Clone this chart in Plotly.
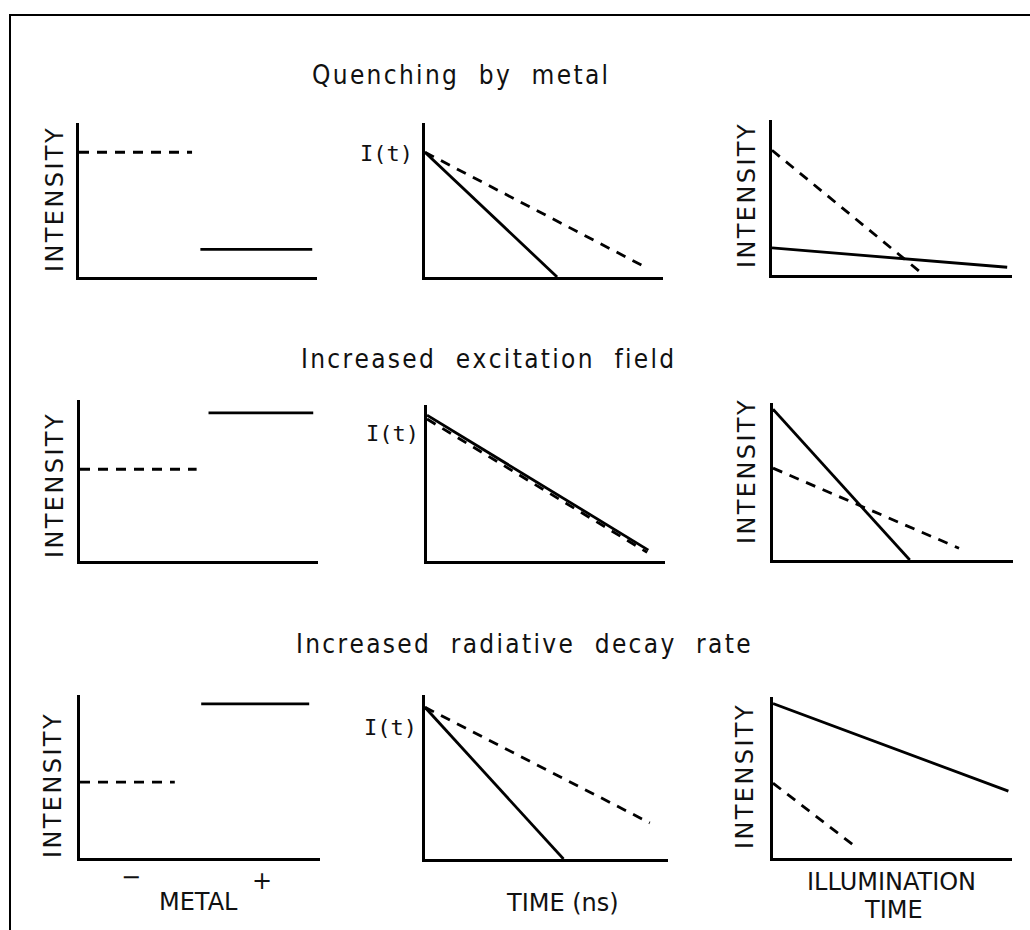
import plotly.graph_objects as go

W, H = 1030, 930

# ---- text ----
row_titles = ["Quenching  by  metal",
              "Increased  excitation  field",
              "Increased  radiative  decay  rate"]

# ---- curves (normalised axis units, 0..1) ----
# "free" = without metal (dashed), "metal" = near metal (solid)

# Row 1: quenching by metal
q_int_free_x, q_int_free_y = [0.0, 0.475], [0.81, 0.81]
q_int_metal_x, q_int_metal_y = [0.51, 0.98], [0.18, 0.18]
q_dec_free_x, q_dec_free_y = [0.0, 0.925], [0.81, 0.065]
q_dec_metal_x, q_dec_metal_y = [0.0, 0.555], [0.81, 0.0]
q_ill_free_x, q_ill_free_y = [0.0, 0.633], [0.805, 0.0]
q_ill_metal_x, q_ill_metal_y = [0.0, 0.98], [0.175, 0.05]

# Row 2: increased excitation field
e_int_free_x, e_int_free_y = [0.0, 0.49], [0.57, 0.57]
e_int_metal_x, e_int_metal_y = [0.54, 0.98], [0.92, 0.92]
e_dec_free_x, e_dec_free_y = [0.0, 0.925], [0.91, 0.055]
e_dec_metal_x, e_dec_metal_y = [0.0, 0.93], [0.935, 0.07]
e_ill_free_x, e_ill_free_y = [0.0, 0.775], [0.585, 0.075]
e_ill_metal_x, e_ill_metal_y = [0.0, 0.57], [0.96, 0.0]

# Row 3: increased radiative decay rate
r_int_free_x, r_int_free_y = [0.0, 0.395], [0.465, 0.465]
r_int_metal_x, r_int_metal_y = [0.505, 0.955], [0.945, 0.945]
r_dec_free_x, r_dec_free_y = [0.0, 0.925], [0.925, 0.22]
r_dec_metal_x, r_dec_metal_y = [0.0, 0.57], [0.925, 0.0]
r_ill_free_x, r_ill_free_y = [0.0, 0.345], [0.465, 0.07]
r_ill_metal_x, r_ill_metal_y = [0.0, 0.985], [0.96, 0.415]

panels = [
    (q_int_free_x, q_int_free_y, q_int_metal_x, q_int_metal_y),
    (q_dec_free_x, q_dec_free_y, q_dec_metal_x, q_dec_metal_y),
    (q_ill_free_x, q_ill_free_y, q_ill_metal_x, q_ill_metal_y),
    (e_int_free_x, e_int_free_y, e_int_metal_x, e_int_metal_y),
    (e_dec_free_x, e_dec_free_y, e_dec_metal_x, e_dec_metal_y),
    (e_ill_free_x, e_ill_free_y, e_ill_metal_x, e_ill_metal_y),
    (r_int_free_x, r_int_free_y, r_int_metal_x, r_int_metal_y),
    (r_dec_free_x, r_dec_free_y, r_dec_metal_x, r_dec_metal_y),
    (r_ill_free_x, r_ill_free_y, r_ill_metal_x, r_ill_metal_y),
]

# panel boxes in pixels: left, right, top, bottom
boxes = [
    (79, 317, 123, 277), (425, 663, 123, 277), (772, 1012, 120, 275),
    (80, 318, 400, 561), (427, 665, 405, 561), (773, 1013, 403, 560),
    (80, 320, 695, 858), (425, 668, 695, 859), (773, 1012, 697, 858),
]


def fx(p):
    return p / W


def fy(p):
    return 1 - p / H


def spread(s, gap="\u200a"):
    """Open up letter spacing with hair spaces."""
    return gap.join(s)


fig = go.Figure()
layout = dict(
    width=W, height=H, margin=dict(l=0, r=0, t=0, b=0),
    paper_bgcolor="white", plot_bgcolor="white", showlegend=False,
)

LW = 2.8
for i, ((fxs, fys, mxs, mys), (l, r, t, b)) in enumerate(zip(panels, boxes)):
    n = "" if i == 0 else str(i + 1)
    axis_common = dict(range=[0, 1], showline=True, linecolor="black",
                       linewidth=LW, showgrid=False, zeroline=False,
                       showticklabels=False, ticks="", fixedrange=True)
    layout["xaxis" + n] = dict(axis_common, domain=[fx(l), fx(r)], anchor="y" + n)
    layout["yaxis" + n] = dict(axis_common, domain=[fy(b), fy(t)], anchor="x" + n)
    fig.add_trace(go.Scatter(x=fxs, y=fys, mode="lines", xaxis="x" + n, yaxis="y" + n,
                             line=dict(color="black", width=LW, dash="10px,8px"),
                             hoverinfo="skip"))
    fig.add_trace(go.Scatter(x=mxs, y=mys, mode="lines", xaxis="x" + n, yaxis="y" + n,
                             line=dict(color="black", width=LW),
                             hoverinfo="skip"))

fig.update_layout(**layout)

ann = []
title_font = dict(family="DejaVu Sans Condensed, DejaVu Sans, sans-serif", size=26, color="#111")
for txt, (cx, cy) in zip(row_titles, [(460, 75), (487, 359), (523, 644)]):
    ann.append(dict(text=spread(txt), x=fx(cx), y=fy(cy), font=title_font))

label_font = dict(family="DejaVu Sans, sans-serif", size=24, color="#111")
for cx, cy in [(55, 200), (747, 196), (55, 486), (747, 472), (53, 786), (745, 777)]:
    ann.append(dict(text=spread("INTENSITY"), x=fx(cx), y=fy(cy), textangle=-90,
                    font=label_font))

it_font = dict(family="DejaVu Sans Mono, monospace", size=22, color="#111")
for cx, cy in [(386, 153), (392, 433), (390, 727)]:
    ann.append(dict(text="I(t)", x=fx(cx), y=fy(cy), font=it_font))

ann.append(dict(text="\u2212", x=fx(131), y=fy(877), font=label_font))
ann.append(dict(text="+", x=fx(262), y=fy(881), font=label_font))
ann.append(dict(text="METAL", x=fx(198), y=fy(902), font=label_font))
ann.append(dict(text="TIME (ns)", x=fx(562), y=fy(903), font=label_font))
ann.append(dict(text="ILLUMINATION", x=fx(891), y=fy(882), font=label_font))
ann.append(dict(text="TIME", x=fx(893), y=fy(910), font=label_font))

for a in ann:
    a.update(xref="paper", yref="paper", showarrow=False,
             xanchor="center", yanchor="middle")
fig.update_layout(annotations=ann)

# frame around the figure (runs past the right and bottom edges)
fig.add_shape(type="rect", xref="paper", yref="paper",
              x0=fx(10), x1=fx(W + 20), y0=fy(H + 20), y1=fy(15),
              line=dict(color="black", width=2))

fig.write_html("out.html")
